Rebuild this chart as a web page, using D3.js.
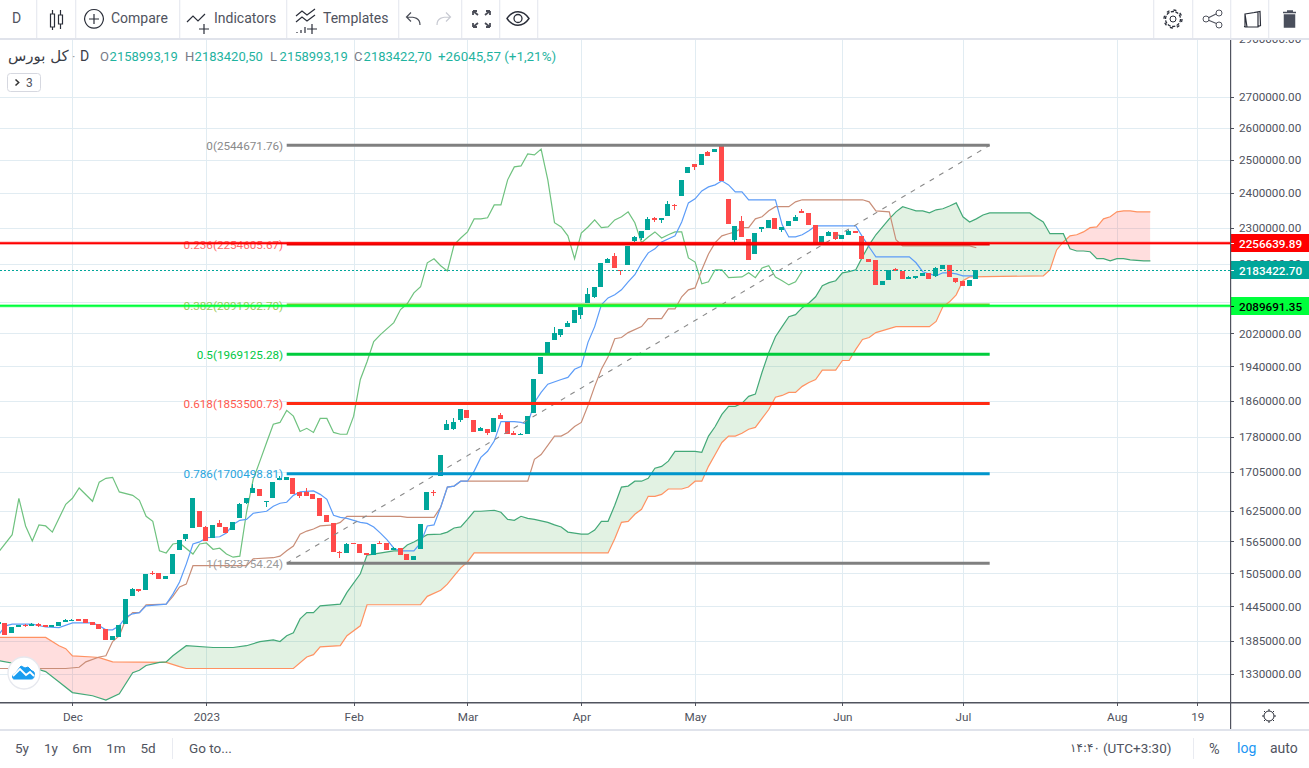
<!DOCTYPE html>
<html><head><meta charset="utf-8">
<style>
html,body{margin:0;padding:0;background:#fff;overflow:hidden}
svg{display:block}
text{font-family:Roboto,"DejaVu Sans",sans-serif}
</style>
<script src="https://cdnjs.cloudflare.com/ajax/libs/d3/7.8.5/d3.min.js"></script>
</head><body><svg id="c" width="1309" height="768"></svg>
<script>
// Prices in thousands
const opens=[1414,1416,1399,1409,1413,1411,1414,1413,1409,1411,1418,1419,1423,1423,1418,1414,1406,1387,1392,1414,1463,1476,1474,1506,1506,1495,1504,1548,1570,1591,1624,1593,1572,1600,1593,1587,1610,1640,1661,1669,1644,1650,1687,1687,1691,1663,1663,1658,1650,1616,1600,1545,1543,1562,1560,1543,1539,1562,1562,1548,1552,1541,1530,1550,1626,1663,1696,1794,1796,1816,1838,1816,1791,1796,1789,1827,1813,1787,1783,1785,1831,1923,1973,2003,2017,2035,2047,2065,2097,2113,2139,2203,2222,2184,2197,2263,2271,2294,2328,2322,2334,2365,2391,2460,2487,2484,2524,2524,2549,2383,2266,2319,2269,2227,2297,2300,2328,2294,2305,2319,2348,2342,2308,2255,2277,2288,2269,2280,2291,2277,2214,2211,2144,2158,2187,2181,2160,2163,2168,2176,2168,2187,2197,2163,2155,2142,2158.99];
const closes=[1418,1396,1409,1413,1411,1414,1411,1409,1413,1418,1421,1421,1419,1416,1413,1406,1387,1394,1413,1458,1476,1472,1504,1505,1495,1500,1541,1568,1579,1650,1593,1566,1597,1593,1581,1602,1638,1650,1671,1654,1645,1683,1691,1693,1658,1654,1654,1648,1614,1602,1545,1543,1560,1560,1543,1539,1560,1560,1548,1552,1539,1530,1537,1598,1663,1661,1741,1807,1811,1840,1822,1789,1798,1787,1820,1818,1785,1783,1785,1825,1909,1963,2000,2020,2032,2047,2080,2087,2121,2139,2203,2214,2189,2181,2249,2274,2291,2325,2322,2328,2368,2362,2439,2478,2478,2518,2511,2533,2436,2311,2305,2274,2211,2285,2302,2322,2297,2302,2319,2331,2342,2308,2255,2277,2288,2269,2280,2291,2285,2214,2205,2144,2155,2184,2181,2160,2165,2168,2176,2160,2189,2197,2165,2152,2142,2158,2183.42];
const highWicks={4:1414,5:1416,6:1416,10:1423,11:1423,20:1478,23:1509,31:1595,33:1606,36:1640,38:1679,42:1695,46:1671,51:1547,52:1562,57:1566,59:1554,65:1667,67:1816,68:1820,72:1802,75:1831,77:1791,78:1787,83:2035,85:2050,88:2136,91:2216,92:2230,95:2277,97:2331,98:2331,100:2377,101:2368,106:2527,111:2334,119:2336,120:2354,124:2291,127:2294,134:2189,136:2168,140:2192};
const lowWicks={4:1409,6:1409,21:1471,23:1502,28:1566,37:1638,40:1632,45:1650,51:1534,65:1654,68:1794,69:1811,73:1783,84:2010,87:2055,89:2110,93:2171,95:2260,96:2266,98:2316,99:2314,101:2351,104:2469,110:2255,114:2288,117:2288,125:2266,137:2160,140:2165,143:2150};

// Ichimoku series as [bar, price] vertices
const tenkan=[[0,1396],[1,1411],[2,1414],[5,1414],[7,1409],[9,1408],[11,1416],[14,1416],[15,1411],[16,1404],[17,1404],[18,1411],[19,1427],[20,1432],[21,1434],[22,1446],[25,1449],[26,1467],[27,1489],[28,1522],[29,1560],[30,1564],[31,1572],[33,1574],[34,1581],[35,1598],[36,1606],[37,1608],[38,1620],[39,1622],[40,1624],[41,1634],[42,1640],[43,1642],[44,1656],[45,1663],[47,1665],[48,1658],[49,1648],[50,1616],[51,1612],[52,1610],[54,1602],[55,1600],[56,1593],[57,1581],[58,1568],[59,1552],[60,1547],[62,1547],[63,1562],[64,1595],[65,1597],[66,1632],[67,1673],[68,1675],[69,1685],[70,1685],[71,1706],[72,1735],[73,1748],[74,1770],[75,1813],[77,1813],[78,1811],[79,1807],[80,1856],[81,1879],[82,1898],[84,1909],[85,1914],[86,1933],[87,1940],[88,1998],[89,2037],[90,2092],[91,2110],[92,2118],[93,2131],[94,2152],[95,2171],[96,2203],[97,2230],[98,2241],[99,2260],[101,2277],[102,2316],[103,2371],[104,2383],[105,2406],[106,2418],[107,2424],[108,2436],[109,2424],[110,2403],[111,2403],[112,2380],[116,2380],[117,2308],[118,2274],[119,2274],[120,2280],[121,2291],[122,2305],[128,2305],[129,2274],[130,2246],[131,2219],[136,2219],[137,2203],[138,2179],[139,2173],[140,2168],[141,2176],[142,2176],[143,2173],[144,2168],[146,2168]];
const kijun=[[0,1339],[10,1339],[12,1341],[13,1350],[15,1358],[16,1360],[17,1384],[18,1394],[19,1423],[20,1434],[21,1434],[22,1448],[25,1449],[26,1463],[27,1480],[28,1485],[29,1519],[37,1519],[38,1532],[41,1534],[42,1537],[43,1547],[44,1556],[45,1579],[46,1585],[47,1589],[48,1595],[50,1597],[51,1602],[52,1614],[60,1614],[61,1612],[65,1612],[66,1632],[67,1673],[68,1675],[69,1685],[79,1685],[80,1731],[81,1741],[83,1781],[84,1781],[85,1789],[86,1802],[87,1811],[88,1849],[89,1893],[90,1933],[91,1963],[92,2007],[93,2010],[94,2022],[96,2037],[97,2057],[99,2057],[100,2082],[101,2082],[102,2113],[103,2131],[104,2136],[105,2184],[106,2227],[107,2258],[108,2277],[109,2283],[110,2288],[111,2300],[112,2300],[113,2325],[114,2331],[115,2348],[116,2360],[118,2360],[119,2374],[120,2380],[129,2380],[130,2374],[131,2348],[133,2345],[134,2266],[135,2249],[145,2249],[146,2244]];
const chikou=[[0,1545],[2,1578],[3,1650],[4,1595],[5,1566],[6,1597],[7,1595],[8,1583],[10,1638],[11,1650],[12,1671],[14,1644],[15,1683],[16,1691],[17,1693],[18,1663],[20,1656],[21,1646],[22,1614],[23,1604],[24,1547],[25,1543],[26,1560],[27,1562],[29,1541],[30,1560],[31,1562],[32,1550],[33,1552],[34,1541],[35,1535],[36,1537],[37,1622],[38,1689],[39,1727],[40,1767],[41,1807],[42,1811],[43,1838],[44,1825],[45,1791],[46,1798],[47,1789],[48,1820],[49,1820],[50,1789],[51,1785],[52,1785],[53,1825],[54,1909],[55,1951],[56,2000],[57,2017],[59,2047],[60,2080],[61,2095],[62,2123],[63,2139],[64,2203],[65,2214],[66,2195],[67,2181],[68,2252],[69,2271],[70,2288],[71,2325],[72,2325],[73,2328],[74,2365],[75,2365],[76,2439],[77,2478],[78,2481],[79,2518],[80,2515],[81,2533],[82,2439],[83,2314],[84,2302],[85,2277],[86,2214],[87,2285],[88,2302],[89,2322],[90,2300],[91,2302],[92,2322],[93,2331],[94,2345],[95,2314],[96,2258],[97,2274],[98,2288],[99,2271],[100,2280],[101,2288],[102,2288],[103,2216],[104,2205],[105,2147],[106,2152],[107,2184],[108,2184],[109,2163],[111,2165],[112,2176],[113,2163],[114,2189],[115,2195],[116,2165],[117,2155],[118,2144],[119,2152],[120,2181]];
const senkouA=[[0,1352],[4,1344],[7,1334],[9,1317],[11,1300],[14,1295],[16,1288],[18,1298],[20,1332],[21,1336],[22,1344],[24,1349],[25,1350],[26,1360],[28,1377],[32,1374],[35,1374],[37,1377],[39,1384],[41,1387],[42,1384],[43,1394],[44,1399],[45,1423],[46,1434],[47,1434],[48,1446],[51,1449],[52,1470],[54,1504],[55,1539],[59,1547],[60,1547],[61,1558],[62,1564],[64,1578],[66,1579],[67,1583],[68,1591],[69,1593],[70,1608],[71,1624],[72,1624],[74,1626],[75,1622],[76,1608],[77,1606],[78,1614],[79,1610],[80,1608],[82,1602],[83,1597],[84,1593],[85,1583],[86,1581],[87,1579],[88,1579],[89,1587],[90,1604],[91,1604],[92,1636],[93,1673],[94,1675],[95,1685],[96,1685],[97,1691],[98,1712],[99,1716],[100,1727],[101,1748],[104,1748],[105,1746],[106,1781],[107,1802],[108,1829],[109,1847],[110,1847],[111,1854],[112,1870],[113,1875],[114,1926],[115,1973],[116,2012],[117,2037],[118,2062],[119,2067],[120,2085],[121,2097],[122,2113],[123,2142],[124,2150],[125,2155],[126,2176],[127,2179],[128,2184],[129,2219],[130,2252],[131,2280],[132,2302],[133,2325],[134,2345],[135,2360],[136,2354],[137,2348],[138,2348],[139,2342],[140,2351],[141,2354],[142,2362],[143,2371],[144,2331],[145,2316],[146,2325],[147,2336],[148,2342],[154,2342],[155,2328],[156,2316],[157,2283],[159,2283],[160,2241],[161,2235],[162,2235],[163,2233],[164,2214],[165,2214],[166,2208],[167,2214],[168,2214],[169,2211],[171,2208],[172,2208]];
const senkouB=[[0,1391],[7,1391],[9,1377],[10,1372],[11,1360],[14,1358],[15,1357],[17,1350],[25,1349],[27,1342],[28,1339],[44,1339],[46,1358],[47,1362],[48,1375],[51,1377],[52,1394],[54,1411],[55,1448],[63,1448],[64,1463],[66,1474],[67,1485],[68,1500],[69,1515],[70,1526],[71,1543],[91,1543],[92,1570],[93,1602],[94,1604],[95,1618],[96,1628],[97,1654],[98,1654],[99,1658],[100,1669],[102,1669],[103,1673],[104,1685],[105,1685],[106,1716],[107,1741],[108,1767],[109,1781],[110,1781],[111,1787],[112,1796],[113,1800],[114,1820],[115,1840],[116,1868],[117,1872],[118,1879],[119,1879],[120,1893],[121,1902],[122,1909],[123,1931],[125,1931],[126,1954],[127,1954],[128,1981],[129,2005],[130,2010],[131,2022],[132,2027],[133,2032],[134,2037],[139,2037],[140,2050],[141,2087],[142,2100],[143,2118],[144,2155],[145,2165],[156,2168],[157,2184],[158,2238],[159,2260],[160,2277],[161,2280],[162,2288],[163,2300],[164,2302],[165,2325],[166,2331],[167,2345],[168,2348],[169,2348],[170,2345],[172,2345]];

// Fibonacci retracement
const fibLevels=["0","0.236","0.382","0.5","0.618","0.786","1"];
const fibPrices=[2544671.76,2254605.67,2091962.70,1969125.28,1853500.73,1700498.81,1523754.24];
const fibLineColors=["#808080","#e00000","#7ec82a","#00cc3c","#ff2a12","#0096cc","#808080"];
const fibTextColors=["#8a8a8a","#ff6a6a","#9ccc5a","#00c845","#ff5a50","#2aa5de","#9a9a9a"];
const fibBars=[43,148];
// Horizontal lines and last price
const hLinePrices=[2256639.89,2089691.35];
const hLineColors=["#ff0000","#00ff3c"];
const hLineText=["#ffffff","#000000"];
const lastPrice=2183422.70;
// Axes
const priceTicks=[2900000,2700000,2600000,2500000,2400000,2300000,2200000,2100000,2020000,1940000,1860000,1780000,1705000,1625000,1565000,1505000,1445000,1385000,1330000];
const timeTickBars=[11,31,53,70,87,104,126,144,167,179];
const timeTickLabels=["Dec","2023","Feb","Mar","Apr","May","Jun","Jul","Aug","19"];
// Text
const symbolName="کل بورس";
const legendLabels=["O","H","L","C"];
const legendValues=["2158993,19","2183420,50","2158993,19","2183422,70"];
const legendChange="+26045,57 (+1,21%)";
const rangeButtons=["5y","1y","6m","1m","5d"];

const W=1309,PR=1230,TOP=40,BOT=702;
const x=d3.scaleLinear().domain([0,146]).range([-1.2,976.3]);
const y=d3.scaleLog().domain([2700,1330]).range([97,674]);
const TEAL="#00a69a",RED="#ff4a4a",GRID="#e1ecf2",TXT="#50535e";
const svg=d3.select("#c");
const defs=svg.append("defs");
defs.append("clipPath").attr("id","pane").append("rect").attr("x",0).attr("y",TOP).attr("width",PR).attr("height",BOT-TOP);

// grid
const gridY=svg.append("g").attr("clip-path","url(#pane)")
 .call(d3.axisLeft(y).tickValues(priceTicks.map(v=>v/1000)).tickSize(-PR).tickFormat("")).attr("transform","translate(0,0)");
gridY.selectAll("path").remove();gridY.selectAll("line").attr("stroke",GRID).attr("x1",0).attr("x2",PR).attr("shape-rendering","crispEdges");
const gridX=svg.append("g").attr("transform",`translate(0,${BOT})`)
 .call(d3.axisTop(x).tickValues(timeTickBars).tickSize(BOT-TOP).tickFormat(""));
gridX.selectAll("path").remove();gridX.selectAll("line").attr("stroke",GRID).attr("shape-rendering","crispEdges");

const pane=svg.append("g").attr("clip-path","url(#pane)");

// cloud
const lineGen=d3.line().x(d=>x(d[0])).y(d=>y(d[1]));
const at=s=>d3.scaleLinear().domain(s.map(d=>d[0])).range(s.map(d=>y(d[1])));
const yA=at(senkouA),yB=at(senkouB);
const allBars=Array.from(new Set([...senkouA,...senkouB].map(d=>d[0]))).sort(d3.ascending);
const band=d3.area().x(d=>x(d)).y0(d=>yA(d)).y1(d=>yB(d))(allBars);
const lineA=d3.area().x(d=>x(d)).y0(d=>yA(d));
defs.append("clipPath").attr("id","belowA").append("path").attr("d",lineA.y1(BOT+50)(allBars));
defs.append("clipPath").attr("id","aboveA").append("path").attr("d",lineA.y1(-50)(allBars));
pane.append("path").attr("d",band).attr("fill","#4caf50").attr("fill-opacity",.16).attr("clip-path","url(#belowA)");
pane.append("path").attr("d",band).attr("fill","#ff5252").attr("fill-opacity",.19).attr("clip-path","url(#aboveA)");

// indicator lines
[[senkouB,"#ff9262"],[senkouA,"#43a978"],[chikou,"#6fc27f"],[kijun,"#c98e78"],[tenkan,"#5c9cf8"]].forEach(([s,c])=>{
 pane.append("path").attr("d",lineGen(s)).attr("fill","none").attr("stroke",c).attr("stroke-width",1.2);
});

// candles
const bars=opens.map((o,i)=>({i,o,c:closes[i],h:highWicks[i]||Math.max(o,closes[i]),l:lowWicks[i]||Math.min(o,closes[i])}));
const cg=pane.append("g").attr("shape-rendering","crispEdges");
const col=d=>d.c>=d.o?TEAL:RED;
cg.selectAll(".w").data(bars).join("line").attr("x1",d=>Math.round(x(d.i))+.5-1).attr("x2",d=>Math.round(x(d.i))+.5-1)
 .attr("y1",d=>y(d.h)).attr("y2",d=>y(d.l)).attr("stroke",col);
cg.selectAll(".b").data(bars).join("rect").attr("x",d=>Math.round(x(d.i))-3).attr("width",5)
 .attr("y",d=>y(Math.max(d.o,d.c))).attr("height",d=>Math.max(1,Math.abs(y(d.o)-y(d.c)))).attr("fill",col);

// fib
const fx0=x(fibBars[0]),fx1=x(fibBars[1]);
pane.append("line").attr("x1",fx0).attr("x2",fx1).attr("y1",y(fibPrices[6]/1000)).attr("y2",y(fibPrices[0]/1000))
 .attr("stroke","#8a8a8a").attr("stroke-width",1.1).attr("stroke-dasharray","5 6");
fibLevels.forEach((l,i)=>{
 const py=y(fibPrices[i]/1000);
 pane.append("text").attr("x",fx0-3.5).attr("y",py+.5).attr("dy",".35em").attr("text-anchor","end")
  .attr("font-size",11.7).attr("fill",fibTextColors[i]).text(`${l}(${fibPrices[i].toFixed(2)})`);
 pane.append("line").attr("x1",fx0).attr("x2",fx1).attr("y1",py).attr("y2",py).attr("stroke",fibLineColors[i]).attr("stroke-width",3);
});

// last price and horizontal lines
pane.append("line").attr("x1",0).attr("x2",PR).attr("y1",Math.round(y(lastPrice/1000))+.5).attr("y2",Math.round(y(lastPrice/1000))+.5)
 .attr("stroke",TEAL).attr("stroke-dasharray","2 2");
hLinePrices.forEach((p,i)=>{
 pane.append("line").attr("x1",0).attr("x2",PR).attr("y1",y(p/1000)).attr("y2",y(p/1000)).attr("stroke",hLineColors[i]).attr("stroke-opacity",.35).attr("stroke-width",3.5);
 pane.append("line").attr("x1",0).attr("x2",PR).attr("y1",y(p/1000)).attr("y2",y(p/1000)).attr("stroke",hLineColors[i]).attr("stroke-width",1.8);
});

// price axis
const priceAxis=svg.append("g").attr("transform",`translate(${PR},0)`)
 .call(d3.axisRight(y).tickValues(priceTicks.map(v=>v/1000)).tickSize(4).tickPadding(5).tickFormat(v=>d3.format(".2f")(v*1000)));
priceAxis.selectAll("path").remove();
priceAxis.selectAll("line").attr("stroke",TXT).attr("shape-rendering","crispEdges");
priceAxis.selectAll("text").attr("font-size",11.7).attr("fill",TXT).style("font-family","Roboto");

// price labels
const chip=(p,bg,fg)=>{
 const py=Math.round(y(p/1000));
 svg.append("rect").attr("x",PR).attr("y",py-9).attr("width",W-PR).attr("height",18).attr("fill",bg);
 svg.append("line").attr("x1",PR).attr("x2",PR+4).attr("y1",py+.5).attr("y2",py+.5).attr("stroke",fg);
 svg.append("text").attr("x",PR+9).attr("y",py+.5).attr("dy",".35em").attr("font-size",11.7).attr("font-weight",500).attr("fill",fg).text(p.toFixed(2));
};
chip(lastPrice,TEAL,"#ffffff");
hLinePrices.forEach((p,i)=>chip(p,hLineColors[i],hLineText[i]));

// frame
const rect=(a,b,w,h,f)=>svg.append("rect").attr("x",a).attr("y",b).attr("width",w).attr("height",h).attr("fill",f);
rect(0,0,W,38,"#fff");rect(0,38,W,2,"#e0e3eb");
rect(0,BOT,W,66,"#fff");
rect(0,BOT,W,1.5,TXT);
rect(PR,TOP,1.2,729-TOP,TXT);
rect(0,729,W,2,"#e0e3eb");

// time axis
const timeAxis=svg.append("g").attr("transform",`translate(0,${BOT+1})`)
 .call(d3.axisBottom(x).tickValues(timeTickBars).tickSize(3).tickPadding(7).tickFormat((d,i)=>timeTickLabels[i]));
timeAxis.selectAll("path").remove();
timeAxis.selectAll("line").attr("stroke",TXT).attr("shape-rendering","crispEdges");
timeAxis.selectAll("text").attr("font-size",11.7).attr("fill",TXT).style("font-family","Roboto");

// legend
const T=(a,b,s,o={})=>{const e=svg.append("text").attr("x",a).attr("y",b).attr("dy",".35em").attr("font-size",o.size||13).attr("fill",o.fill||TXT).text(s);
 if(o.anchor)e.attr("text-anchor",o.anchor);if(o.family)e.style("font-family",o.family);if(o.weight)e.attr("font-weight",o.weight);return e;};
const VAL="#1fb39f";
T(8,56,symbolName,{size:15,family:'"DejaVu Sans"',fill:"#3a3d47"});
T(72,56,"·",{size:13,fill:"#9598a1"});
T(80,56,"D",{size:14,fill:"#3a3d47"});
[100,185,270,354].forEach((lx,i)=>{
 T(lx,56,legendLabels[i],{fill:"#787b86"});
 T(lx+9.6,56,legendValues[i],{fill:VAL});
});
T(438,56,legendChange,{fill:VAL,size:13.4});
svg.append("rect").attr("x",7.5).attr("y",73.5).attr("width",33).attr("height",18).attr("rx",3).attr("fill","#fff").attr("stroke","#d6d8e0");
svg.append("path").attr("d","M15.5 79.5l3.2 3-3.2 3").attr("fill","none").attr("stroke","#333").attr("stroke-width",1.5);
T(26,83,"3",{size:12,fill:TXT});

// toolbar
[36,75,179,286,398,461,499,537,1153,1192,1230,1268].forEach(a=>rect(a,0,1.3,38,"#e9ebf1"));
T(12,18.5,"D",{size:14});T(111,18.5,"Compare",{size:14});T(214,18.5,"Indicators",{size:14});T(323,18.5,"Templates",{size:14});
const ic=(d,o={})=>svg.append("path").attr("d",d).attr("fill",o.fill||"none").attr("stroke",o.stroke||"#2a2e39").attr("stroke-width",o.w||1.2);
ic("M52.5 10v4M52.5 27v3M50.5 14h4v13h-4zM60.5 10v5M60.5 24v5M58.5 15h4v9h-4z");
ic("M94 9.5a9.3 9.3 0 1 0 .01 0M94 14v10M89 19h10");
ic("M187 22l6-6 5 5 7-7M204 24v10M199 29h10");
ic("M296 16l6-5 5 4 8-6M296 22l6-5 5 4 8-6M312 24v10M307 29h10M297 32v1M301 30v3M305 27v6");
ic("M420 25c0-7-5-8-13-8M411 12.5l-4.5 4.5 4.5 4.5",{stroke:"#4a4d57"});
ic("M437 25c0-7 5-8 13-8M446 12.5l4.5 4.5-4.5 4.5",{stroke:"#c8cad2"});
ic("M473 11l5 4M473 11v4M473 11h4M490 11l-5 4M490 11v4M490 11h-4M473 27l5-4M473 27v-4M473 27h4M490 27l-5-4M490 27v-4M490 27h-4",{w:1.8,stroke:"#4a4d57"});
ic("M507 18.5c6-9 16-9 22 0c-6 9-16 9-22 0z",{w:1.4});
svg.append("circle").attr("cx",518).attr("cy",18.5).attr("r",4).attr("fill","none").attr("stroke","#2a2e39").attr("stroke-width",1.3);
svg.append("circle").attr("cx",1173).attr("cy",19).attr("r",3).attr("fill","none").attr("stroke","#2a2e39");
svg.append("circle").attr("cx",1173).attr("cy",19).attr("r",7.5).attr("fill","none").attr("stroke","#2a2e39").attr("stroke-width",1.3).attr("stroke-dasharray","3.2 1.5");
svg.append("circle").attr("cx",1173).attr("cy",19).attr("r",9).attr("fill","none").attr("stroke","#2a2e39").attr("stroke-width",1.3).attr("stroke-dasharray","3 4.1");
ic("M1208 18l12-6M1208 20l12 5",{stroke:"#50535e"});
[[1206,19],[1219,13],[1219,25]].forEach(p=>svg.append("circle").attr("cx",p[0]).attr("cy",p[1]).attr("r",3).attr("fill","#fff").attr("stroke","#50535e"));
ic("M1245 14l13-2v15h-13zM1245 14l2 13M1247 27l-3-.5M1254 12.5l6-1 .5 14-2.5 1",{stroke:"#2a2e39"});
ic("M1284.5 15h10v12h-10zM1283 12.5h13M1287 11h6",{fill:"#4a4f5c",stroke:"#4a4f5c",w:1.5});

// logo
svg.append("circle").attr("cx",24).attr("cy",673).attr("r",16).attr("fill","#fff").attr("stroke","#e6e8ee").attr("stroke-width",1.3);
ic("M14 679c-2 0-2-4 0-5c1-1 2-2 3-3l4-5l4 2l3-1l4 4c2 0 3 2 2 5c0 2-1 3-3 3z",{fill:"#1a9df0",stroke:"#1a9df0",w:1});
ic("M13 676l7-7 6 6 4-3 4 4",{stroke:"#fff",w:1.8});

// sun icon
svg.append("circle").attr("cx",1269).attr("cy",716).attr("r",5).attr("fill","none").attr("stroke","#2a2e39");
ic("M1269 709v2M1269 721v2M1262 716h2M1274 716h2M1264 711l1.5 1.5M1272.5 719.5l1.5 1.5M1264 721l1.5-1.5M1272.5 712.5l1.5-1.5",{w:1});

// bottom bar
[22,51,82,116,148].forEach((a,i)=>T(a,748,rangeButtons[i],{anchor:"middle",size:13.5}));
rect(172,738,1,21,"#e9ebf1");rect(1193,738,1,21,"#e9ebf1");
T(189,748,"Go to...",{size:13.5});
T(1070,748,"۱۴:۴۰",{size:12,family:'"DejaVu Sans"'});
T(1103,748,"(UTC+3:30)",{size:13.5});
T(1209,749,"%",{size:14.5});
T(1237,748,"log",{size:14,fill:"#2196f3"});
T(1270,748,"auto",{size:14});
</script></body></html>
